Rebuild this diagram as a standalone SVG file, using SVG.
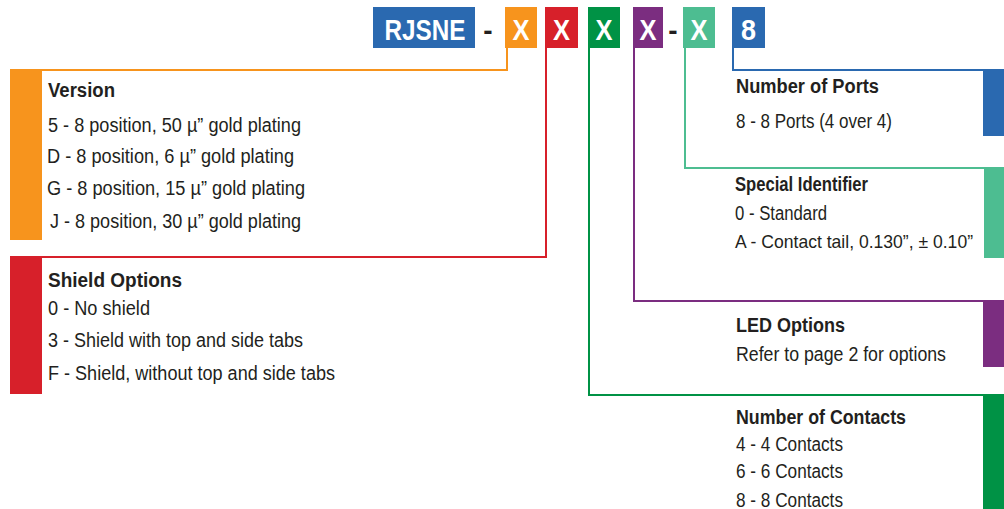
<svg xmlns="http://www.w3.org/2000/svg" width="1004" height="509" viewBox="0 0 1004 509">
<style>
text{font-family:"Liberation Sans Narrow","Liberation Sans",Arial,sans-serif;fill:#231F20}
.h{font-weight:bold;font-size:20px}
.t{font-size:20px}
.code{font-weight:bold;fill:#fff;font-size:30px;text-anchor:middle}
.dash{font-weight:bold;font-size:28px;text-anchor:middle;fill:#231F20}
.ln{fill:none;stroke-width:2}
</style>
<rect width="1004" height="509" fill="#fff"/>
<g id="connectors">
<polyline class="ln" stroke="#F7941D" points="507,48 507,70 10,70"/>
<polyline class="ln" stroke="#D7202A" points="546,48 546,257 10,257"/>
<polyline class="ln" stroke="#009245" points="589,48 589,395 1004,395"/>
<polyline class="ln" stroke="#7B2D80" points="634,48 634,301 1004,301"/>
<polyline class="ln" stroke="#4DBD91" points="685,48 685,168 1004,168"/>
<polyline class="ln" stroke="#2A69B0" points="733,48 733,70 1004,70"/>
</g>
<g id="code">
<rect x="373" y="7" width="102" height="41" fill="#2A69B0"/>
<text class="code" x="425" y="40" textLength="81" lengthAdjust="spacingAndGlyphs">RJSNE</text>
<text class="dash" x="488" y="40">-</text>
<rect x="505" y="7" width="32" height="41" fill="#F7941D"/>
<text class="code" x="521" y="40" textLength="17" lengthAdjust="spacingAndGlyphs">X</text>
<rect x="545" y="7" width="33" height="41" fill="#D7202A"/>
<text class="code" x="561.5" y="40" textLength="17" lengthAdjust="spacingAndGlyphs">X</text>
<rect x="588" y="7" width="32" height="41" fill="#009245"/>
<text class="code" x="604" y="40" textLength="17" lengthAdjust="spacingAndGlyphs">X</text>
<rect x="633" y="7" width="30" height="41" fill="#7B2D80"/>
<text class="code" x="648" y="40" textLength="17" lengthAdjust="spacingAndGlyphs">X</text>
<text class="dash" x="673" y="40">-</text>
<rect x="683" y="7" width="32" height="41" fill="#4DBD91"/>
<text class="code" x="699" y="40" textLength="17" lengthAdjust="spacingAndGlyphs">X</text>
<rect x="732" y="7" width="33" height="41" fill="#2A69B0"/>
<text class="code" x="748.5" y="40" textLength="15" lengthAdjust="spacingAndGlyphs">8</text>
</g>
<g id="version">
<rect x="10" y="70" width="32" height="170" fill="#F7941D"/>
<text class="h" x="48" y="97" textLength="67" lengthAdjust="spacingAndGlyphs">Version</text>
<text class="t" x="48" y="132" textLength="253" lengthAdjust="spacingAndGlyphs">5 - 8 position, 50 µ” gold plating</text>
<text class="t" x="47" y="163" textLength="247" lengthAdjust="spacingAndGlyphs">D - 8 position, 6 µ” gold plating</text>
<text class="t" x="47" y="195" textLength="258" lengthAdjust="spacingAndGlyphs">G - 8 position, 15 µ” gold plating</text>
<text class="t" x="50" y="228" textLength="251" lengthAdjust="spacingAndGlyphs">J - 8 position, 30 µ” gold plating</text>
</g>
<g id="shield">
<rect x="10" y="257" width="32" height="137" fill="#D7202A"/>
<text class="h" x="48" y="287" textLength="134" lengthAdjust="spacingAndGlyphs">Shield Options</text>
<text class="t" x="48" y="315" textLength="102" lengthAdjust="spacingAndGlyphs">0 - No shield</text>
<text class="t" x="48" y="347" textLength="255" lengthAdjust="spacingAndGlyphs">3 - Shield with top and side tabs</text>
<text class="t" x="48" y="380" textLength="287" lengthAdjust="spacingAndGlyphs">F - Shield, without top and side tabs</text>
</g>
<g id="ports">
<rect x="983" y="70" width="21" height="66" fill="#2A69B0"/>
<text class="h" x="736" y="93" textLength="143" lengthAdjust="spacingAndGlyphs">Number of Ports</text>
<text class="t" x="736" y="128" textLength="156" lengthAdjust="spacingAndGlyphs">8 - 8 Ports (4 over 4)</text>
</g>
<g id="special">
<rect x="984" y="168" width="20" height="90" fill="#4DBD91"/>
<text class="h" x="735" y="191" textLength="133" lengthAdjust="spacingAndGlyphs">Special Identifier</text>
<text class="t" x="735" y="220" textLength="92" lengthAdjust="spacingAndGlyphs">0 - Standard</text>
<text x="735" y="248" font-size="18.5" textLength="238" lengthAdjust="spacingAndGlyphs">A - Contact tail, 0.130”, ± 0.10”</text>
</g>
<g id="led">
<rect x="983" y="301" width="21" height="66" fill="#7B2D80"/>
<text class="h" x="736" y="332" textLength="109" lengthAdjust="spacingAndGlyphs">LED Options</text>
<text class="t" x="736" y="361" textLength="210" lengthAdjust="spacingAndGlyphs">Refer to page 2 for options</text>
</g>
<g id="contacts">
<rect x="983" y="395" width="21" height="114" fill="#009245"/>
<text class="h" x="736" y="424" textLength="170" lengthAdjust="spacingAndGlyphs">Number of Contacts</text>
<text class="t" x="736" y="451" textLength="107" lengthAdjust="spacingAndGlyphs">4 - 4 Contacts</text>
<text class="t" x="736" y="478" textLength="107" lengthAdjust="spacingAndGlyphs">6 - 6 Contacts</text>
<text class="t" x="736" y="507" textLength="107" lengthAdjust="spacingAndGlyphs">8 - 8 Contacts</text>
</g>
</svg>
